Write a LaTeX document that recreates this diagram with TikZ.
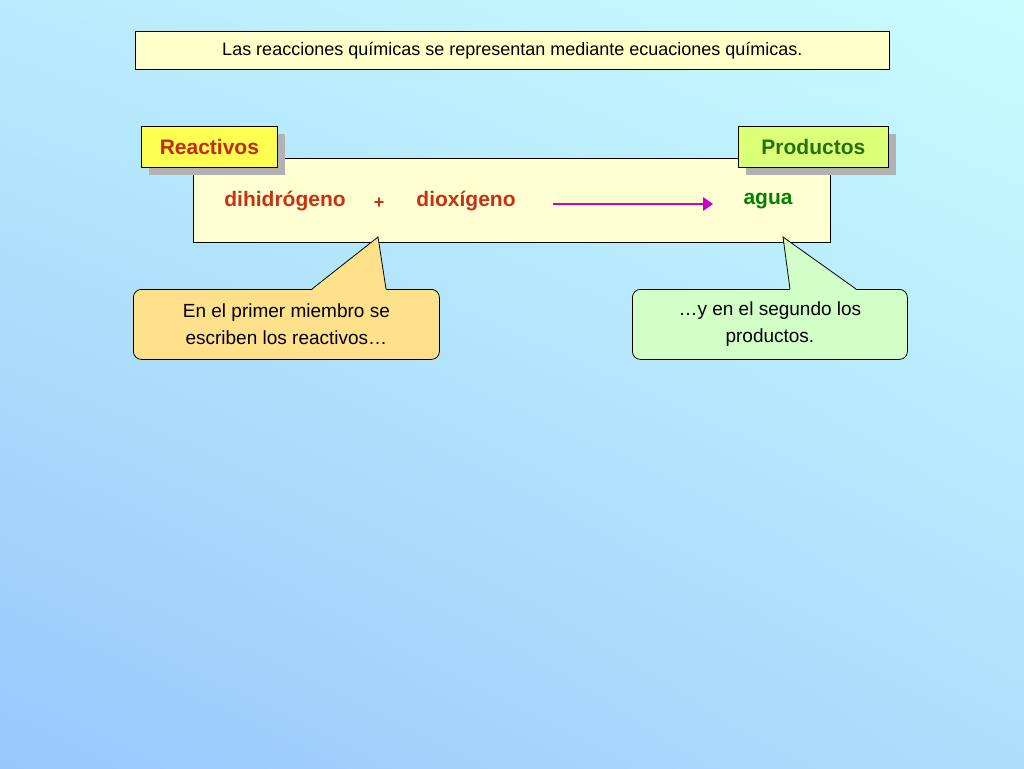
\documentclass[tikz,border=0pt]{standalone}
\usepackage{fontspec}
\setmainfont{Liberation Sans}
\usetikzlibrary{shadings}
\definecolor{bgUL}{RGB}{185,235,252}
\definecolor{bgUR}{RGB}{200,252,255}
\definecolor{bgLL}{RGB}{150,200,252}
\definecolor{bgLR}{RGB}{175,222,252}
\definecolor{redtxt}{RGB}{200,50,20}
\definecolor{greentxt}{RGB}{0,130,0}
\definecolor{magarrow}{RGB}{200,0,200}
\definecolor{orangefill}{RGB}{255,225,140}
\definecolor{greenfill}{RGB}{210,255,200}
\begin{document}
\begin{tikzpicture}[x=1pt,y=-1pt,
  lbl/.style={draw=black,line width=0.8pt,font=\fontsize{21}{24}\selectfont\bfseries,inner sep=0pt,anchor=north west},
  call/.style={draw=black,line width=0.8pt,rounded corners=8pt},
  txt/.style={font=\fontsize{19}{27}\selectfont,align=center}]
\useasboundingbox (0,0) rectangle (1024,768);
\shade[upper left=bgUL,upper right=bgUR,lower left=bgLL,lower right=bgLR] (0,0) rectangle (1024,768);
% title
\node[draw=black,line width=0.8pt,fill={rgb,255:red,255;green,255;blue,200},minimum width=754pt,minimum height=38pt,anchor=north west,inner sep=0pt,font=\fontsize{18}{20}\selectfont] (title) at (135,31) {Las reacciones químicas se representan mediante ecuaciones químicas.};
% main box
\node[draw=black,line width=0.8pt,fill={rgb,255:red,255;green,255;blue,210},minimum width=637pt,minimum height=84pt,anchor=north west,inner sep=0pt] (main) at (193,158) {};
% shadows
\fill[gray!60] (149,134) rectangle (285,175);
\fill[gray!60] (746,134) rectangle (896,175);
\node[lbl,fill={rgb,255:red,255;green,255;blue,80},text={rgb,255:red,200;green,40;blue,10},minimum width=136pt,minimum height=41pt] (reac) at (141,126) {Reactivos};
\node[lbl,fill={rgb,255:red,220;green,255;blue,120},text={rgb,255:red,40;green,110;blue,10},minimum width=150pt,minimum height=41pt] (prod) at (738,126) {Productos};
% equation
\begin{scope}[font=\fontsize{21}{24}\selectfont\bfseries]
\node[text=redtxt] (h2) at (285,201) {dihidrógeno};
\node[text=redtxt,font=\fontsize{18}{20}\selectfont\bfseries] (plus) at (379,203) {+};
\node[text=redtxt] (o2) at (466,201) {dioxígeno};
\node[text=greentxt] (agua) at (768,201) {agua};
\end{scope}
\coordinate (a1) at (553,204); \coordinate (a2) at (713,204);
\draw[line width=2.5pt,magarrow] (a1) -- (705,204);
\fill[magarrow] (a2) -- (703,197) -- (703,211) -- cycle;
% callouts
\node[call,fill=orangefill,minimum width=306pt,minimum height=70pt,anchor=north west,inner sep=0pt,txt] (c1) at (133,289) {En el primer miembro se\\escriben los reactivos…};
\fill[orangefill] (312,289.8) -- (378,237) -- (386,289.8) -- cycle;
\draw[line width=0.8pt] (312,289) -- (378,237) -- (386,289);
\node[call,fill=greenfill,minimum width=275pt,minimum height=70pt,anchor=north west,inner sep=0pt,txt] (c2) at (632,289) {…y en el segundo los\\productos.};
\fill[greenfill] (790,289.8) -- (783,237) -- (856,289.8) -- cycle;
\draw[line width=0.8pt] (790,289) -- (783,237) -- (856,289);
\end{tikzpicture}
\end{document}
